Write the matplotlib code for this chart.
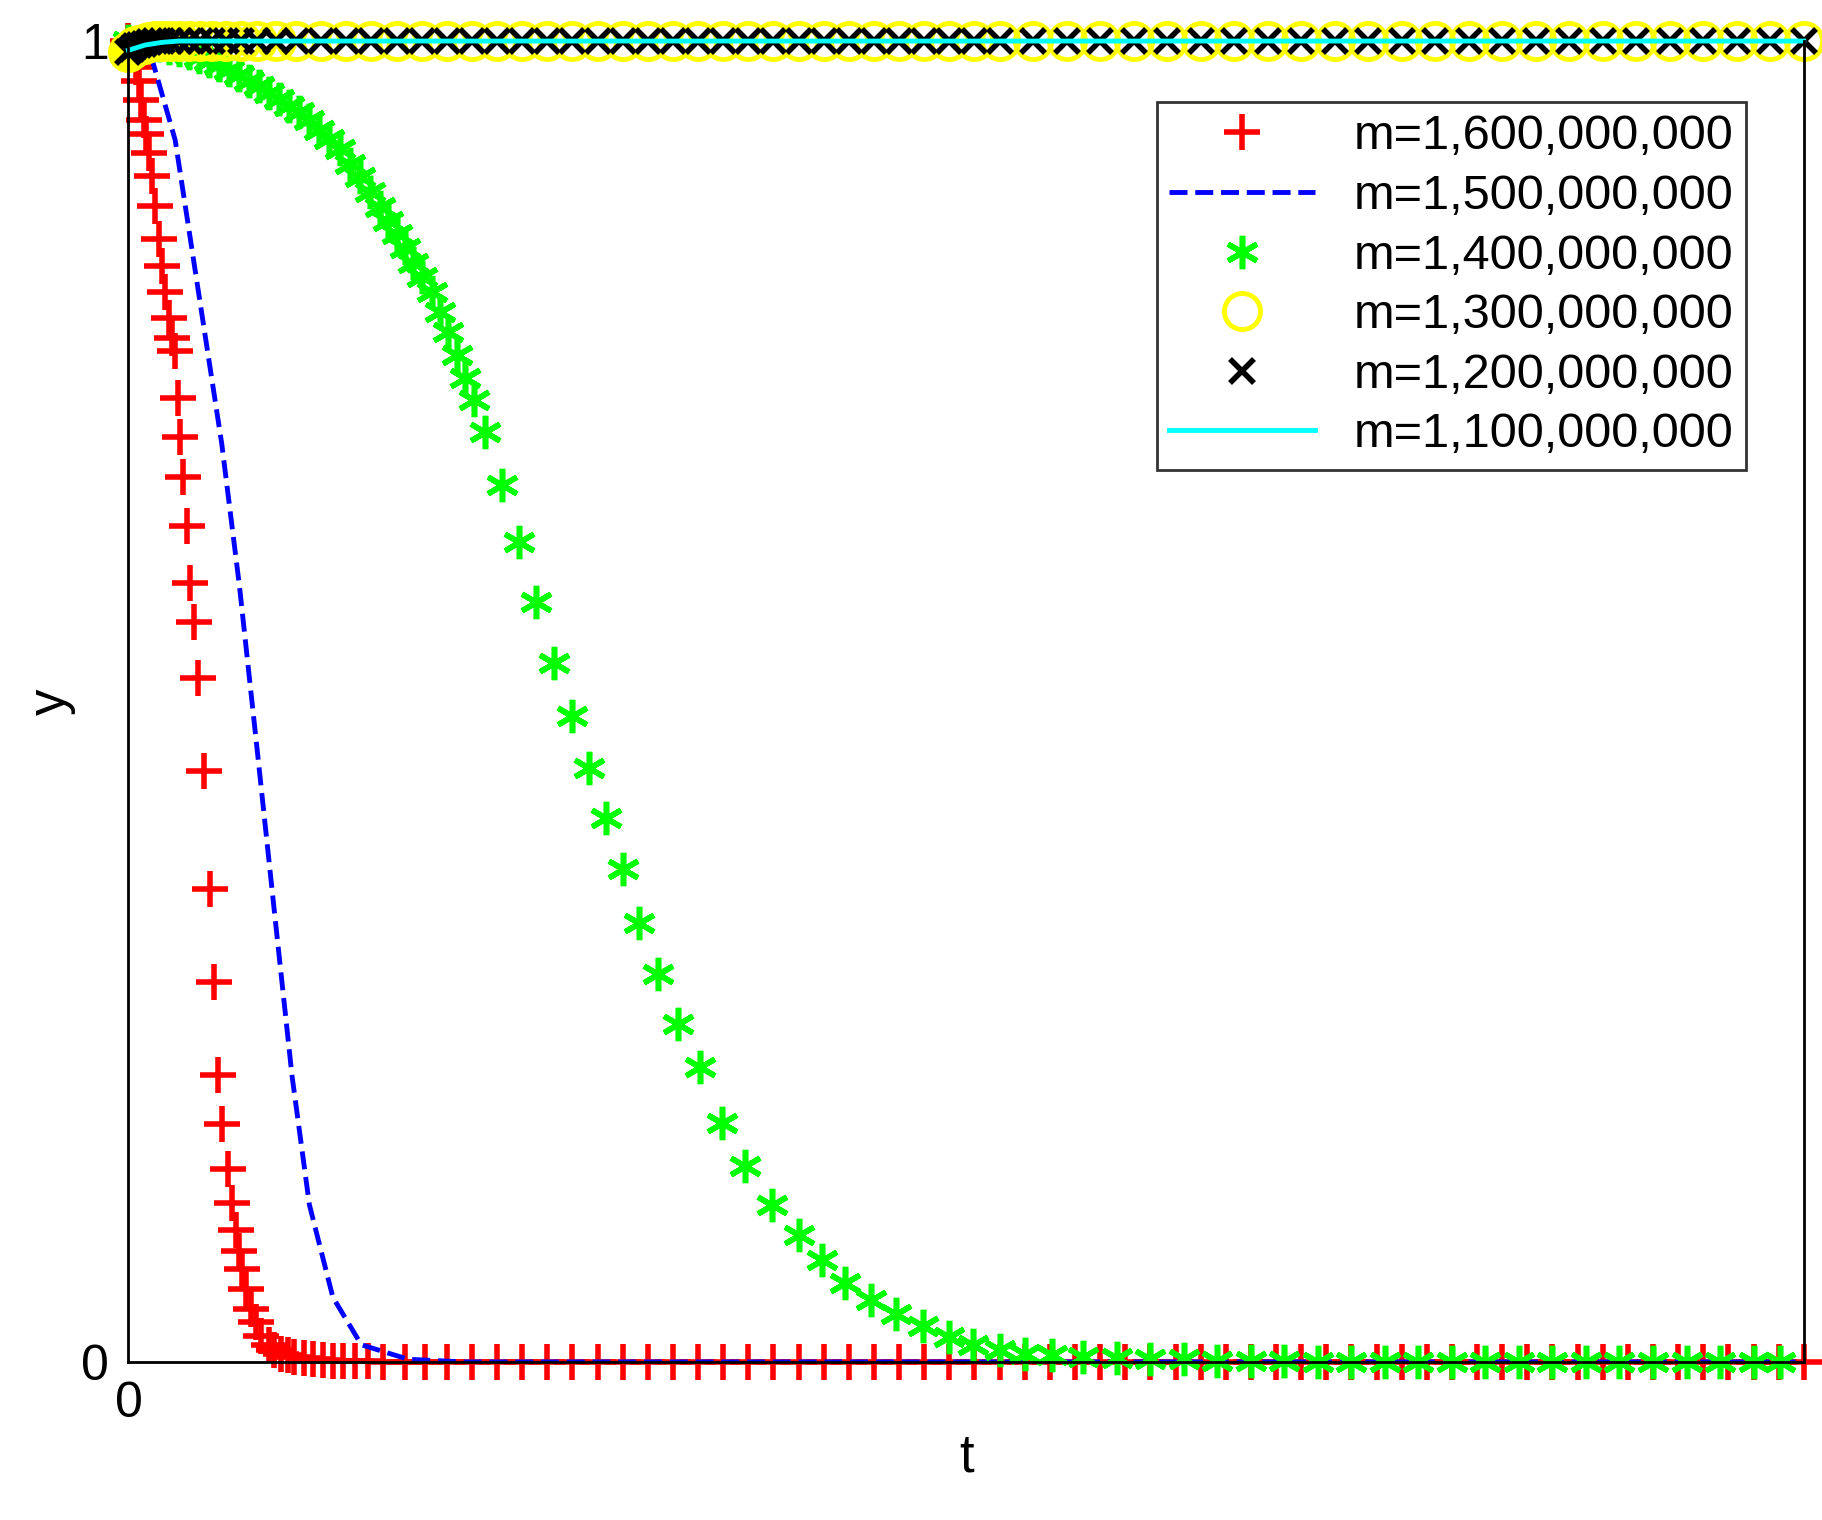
import matplotlib
matplotlib.use("Agg")
import matplotlib.pyplot as plt

plt.rcParams['font.family'] = ['Liberation Sans', 'DejaVu Sans']

labels = ["m=1,600,000,000", "m=1,500,000,000", "m=1,400,000,000",
          "m=1,300,000,000", "m=1,200,000,000", "m=1,100,000,000"]

# m=1.6e9 (red +)
t_red = [0, 0.15, 0.3, 0.45, 0.6, 0.75, 0.9, 1.05, 1.2, 1.39, 1.6, 1.8, 2.0, 2.2, 2.4,
         2.6, 2.79, 2.95, 3.1, 3.25, 3.48, 3.7, 3.9, 4.18, 4.53, 4.88, 5.09, 5.37, 5.6,
         5.92, 6.2, 6.4, 6.62, 6.8, 7.0, 7.32, 7.6, 7.9, 8.36, 8.7, 9.1, 9.5, 9.9,
         10.45, 11.0, 11.6, 12.2, 12.8, 13.5, 14.3, 15.2,
         16.5, 17.7, 19, 20.5, 22, 23.5, 25, 26.5, 28, 29.5, 31, 32.5, 34, 35.5, 37,
         38.5, 40, 41.5, 43, 44.5, 46, 47.5, 49, 50.5, 52, 53.5, 55, 56.5, 58, 59.5,
         61, 62.5, 64, 65.5, 67, 68.5, 70, 71.5, 73, 74.5, 76, 77.5, 79, 80.5, 82,
         83.5, 85, 86.5, 88, 89.5, 91, 92.5, 94, 95.5, 97, 98.5, 100]
y_red = [1, 0.995, 0.99, 0.98, 0.97, 0.955, 0.94, 0.93, 0.915, 0.898, 0.875, 0.85,
         0.83, 0.81, 0.79, 0.775, 0.765, 0.73, 0.70, 0.67, 0.633, 0.59, 0.56, 0.518,
         0.447, 0.358, 0.288, 0.217, 0.18, 0.146, 0.12, 0.10, 0.084, 0.07, 0.055,
         0.04, 0.03, 0.02, 0.013, 0.009, 0.006, 0.005, 0.004, 0.003, 0.002, 0.0015,
         0.001, 0.0008, 0.0006, 0.0004, 0.0002,
         0, 0, 0, 0, 0, 0, 0, 0, 0, 0, 0, 0, 0, 0, 0, 0, 0, 0, 0, 0, 0, 0, 0, 0, 0,
         0, 0, 0, 0, 0, 0, 0, 0, 0, 0, 0, 0, 0, 0, 0, 0, 0, 0, 0, 0, 0, 0, 0, 0, 0,
         0, 0, 0, 0, 0, 0, 0]

# m=1.5e9 (blue dashed)
t_blue = [0, 1.39, 2.79, 4.18, 5.57, 6.62, 7.67, 8.71, 9.76, 10.8, 12.2, 13.9, 16.7, 20, 100]
y_blue = [1, 0.987, 0.925, 0.81, 0.695, 0.588, 0.465, 0.341, 0.217, 0.119, 0.049,
          0.013, 0.002, 0, 0]

# m=1.4e9 (green asterisk)
t_green = [0, 0.6, 1.2, 1.8, 2.4, 3.0, 3.6, 4.2, 4.8, 5.4, 6.0, 6.6, 7.2, 7.8, 8.4,
           9.0, 9.6, 10.2, 10.8, 11.4, 12.0, 12.6, 13.2, 13.8, 14.4, 15.0, 15.5, 16.0,
           16.5, 17.0, 17.5, 18.1, 18.6, 19.1, 19.6, 20.1, 20.6, 21.3,
           22.3, 23.3, 24.3, 25.4, 26.5, 27.5, 28.5, 29.5, 30.5, 31.6, 32.8,
           34.1, 35.4, 36.8, 38.4, 40.0, 41.4, 42.8, 44.3, 45.8, 47.4, 49.0, 50.4,
           52.0, 53.5, 55.1, 57.0, 59.0, 61.0, 63, 65, 67, 69, 71, 73, 75, 77, 79, 81,
           83, 85, 87, 89, 91, 93, 95, 97, 98.6]
y_green = [1, 0.999, 0.998, 0.997, 0.995, 0.993, 0.991, 0.988, 0.985, 0.982, 0.978,
           0.974, 0.97, 0.966, 0.961, 0.956, 0.951, 0.946, 0.94, 0.933, 0.926, 0.918,
           0.907, 0.897, 0.886, 0.874, 0.864, 0.854, 0.843, 0.832, 0.821, 0.81, 0.795,
           0.78, 0.762, 0.745, 0.728, 0.704,
           0.664, 0.621, 0.575, 0.529, 0.489, 0.45, 0.412, 0.373, 0.332, 0.294,
           0.256, 0.223, 0.181, 0.148, 0.119, 0.096, 0.077, 0.06, 0.047, 0.036, 0.027,
           0.019, 0.013, 0.009, 0.006, 0.005, 0.004, 0.003, 0.002, 0.002, 0.001, 0.001,
           0.001, 0, 0, 0, 0, 0, 0, 0, 0, 0, 0, 0, 0, 0, 0, 0]

# m=1.3e9 (yellow o) and m=1.2e9 (black x)
t_hi = [0, 0.2, 0.4, 0.6, 0.9, 1.2, 1.6, 2.0, 2.5, 3.0, 3.6, 4.3, 5.0, 5.8, 6.7, 7.7,
        8.8, 10, 11.5, 13, 14.5, 16, 17.5, 19, 20.5, 22, 23.5, 25, 26.5, 28, 29.5, 31,
        32.5, 34, 35.5, 37, 38.5, 40, 41.5, 43, 44.5, 46, 47.5, 49, 50.5, 52, 54, 56,
        58, 60, 62, 64, 66, 68, 70, 72, 74, 76, 78, 80, 82, 84, 86, 88, 90, 92, 94, 96,
        98, 100]
y_yel = [0.992, 0.994, 0.996, 0.997, 0.998, 0.999] + [1.0] * 64
y_blk = [0.992, 0.994, 0.996, 0.997, 0.998, 0.999] + [1.0] * 64

# m=1.1e9 (cyan line)
t_cyan = [0, 0.5, 1.0, 2.0, 3.0, 100]
y_cyan = [0.993, 0.995, 0.997, 0.999, 1.0, 1.0]

fig = plt.figure(figsize=(18.22, 15.2), dpi=100)
ax = fig.add_axes([0.0705, 0.104, 0.9195, 0.869])

asterisk = (6, 2, 0)
ax.plot(t_red, y_red, '+', color='red', ms=26, mew=4, label=labels[0], clip_on=False)
ax.plot(t_blue, y_blue, '--', color='blue', lw=3.5, label=labels[1])
ax.plot(t_green, y_green, linestyle='none', marker=asterisk, color='#00ff00', ms=24,
        mew=4, label=labels[2], clip_on=False)
ax.plot(t_hi, y_yel, 'o', color='yellow', mfc='none', ms=26, mew=3.5, label=labels[3], clip_on=False)
ax.plot(t_hi, y_blk, 'x', color='black', ms=17, mew=4, label=labels[4], clip_on=False)
ax.plot(t_cyan, y_cyan, '-', color='cyan', lw=3.5, label=labels[5], clip_on=False)

ax.set_xlim(0, 100)
ax.set_ylim(0, 1)
ax.set_xticks([0])
ax.set_yticks([0, 1])
ax.tick_params(labelsize=36, length=0, pad=14)
ax.set_xlabel('t', fontsize=38)
ax.set_ylabel('y', fontsize=38)
ax.spines['top'].set_visible(False)
for s in ax.spines.values():
    s.set_linewidth(2)
leg = ax.legend(loc='upper right', bbox_to_anchor=(0.98, 0.972), fontsize=35,
                frameon=True, fancybox=False, edgecolor='black', handlelength=3,
                borderpad=0.25, labelspacing=0.3)
leg.get_frame().set_linewidth(2)
fig.savefig('out.png', dpi=100)
